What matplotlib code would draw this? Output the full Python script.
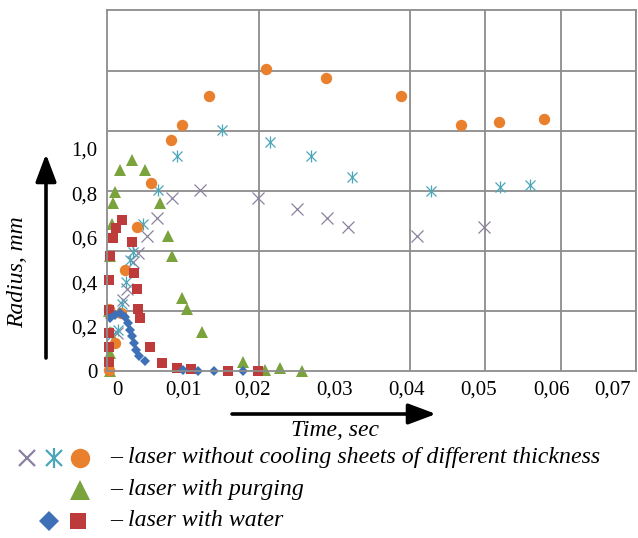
import matplotlib
matplotlib.use("Agg")
import matplotlib.pyplot as plt
import numpy as np

# ---------------- data ----------------
# laser without cooling: sheet 1 (grey crosses)
x_cross = [0.0011, 0.0019, 0.0025, 0.0033, 0.0039, 0.0051, 0.0064, 0.0084, 0.0121,
           0.0198, 0.0250, 0.0290, 0.0318, 0.0410, 0.0498]
y_cross = [0.17, 0.32, 0.37, 0.49, 0.53, 0.61, 0.69, 0.78, 0.815,
           0.78, 0.73, 0.69, 0.65, 0.61, 0.65]
# laser without cooling: sheet 2 (teal stars)
x_star = [0.0005, 0.0013, 0.0018, 0.0023, 0.0029, 0.0033, 0.0046, 0.0066, 0.0091,
          0.0150, 0.0214, 0.0269, 0.0323, 0.0428, 0.0519, 0.0559]
y_star = [0.16, 0.185, 0.30, 0.40, 0.50, 0.535, 0.66, 0.815, 0.97,
          1.085, 1.03, 0.97, 0.874, 0.81, 0.83, 0.84]
# laser without cooling: sheet 3 (orange circles)
x_circ = [0.0000, 0.0001, 0.0009, 0.0017, 0.0022, 0.0038, 0.0056, 0.0083, 0.0097,
          0.0133, 0.0209, 0.0288, 0.0388, 0.0468, 0.0518, 0.0578]
y_circ = [0.005, 0.28, 0.126, 0.26, 0.455, 0.65, 0.847, 1.04, 1.11,
          1.24, 1.36, 1.32, 1.24, 1.11, 1.12, 1.135]
# laser with purging (green triangles)
x_purge = [0.0002, 0.0002, 0.0002, 0.0001, 0.0002, 0.0005, 0.0006, 0.0009, 0.0015,
           0.0031, 0.0048, 0.0068, 0.0079, 0.0084, 0.0097, 0.0104, 0.0124, 0.0178,
           0.0208, 0.0228, 0.0257]
y_purge = [0.0, 0.08, 0.176, 0.27, 0.52, 0.66, 0.757, 0.806, 0.905,
           0.95, 0.905, 0.757, 0.61, 0.52, 0.33, 0.28, 0.176, 0.04,
           0.005, 0.013, 0.0]
# laser with water (red squares)
x_wsq = [0.0, 0.0, 0.0, 0.0, 0.0, 0.0002, 0.0006, 0.0010, 0.0018, 0.0031, 0.0034,
         0.0038, 0.0039, 0.0042, 0.0055, 0.0071, 0.0091, 0.0109, 0.0158, 0.0198]
y_wsq = [0.04, 0.11, 0.17, 0.275, 0.41, 0.52, 0.60, 0.645, 0.68, 0.58, 0.44,
         0.37, 0.28, 0.24, 0.11, 0.036, 0.013, 0.009, 0.0, 0.0]
# laser with water (blue diamonds)
x_wdi = [0.0002, 0.0009, 0.0015, 0.0022, 0.0026, 0.0029, 0.0031, 0.0034, 0.0037,
         0.0040, 0.0048, 0.0099, 0.0119, 0.0140, 0.0178]
y_wdi = [0.239, 0.252, 0.261, 0.243, 0.216, 0.185, 0.158, 0.126, 0.095,
         0.068, 0.045, 0.005, 0.0, 0.0, 0.0]

xtick_labels = ["0", "0,01", "0,02", "0,03", "0,04", "0,05", "0,06", "0,07"]
ytick_labels = ["0", "0,2", "0,4", "0,6", "0,8", "1,0"]
ytick_vals = [0, 0.2, 0.4, 0.6, 0.8, 1.0]
legend_texts = ["– laser without cooling sheets of different thickness",
                "– laser with purging",
                "– laser with water"]
xlabel = "Time, sec"
ylabel = "Radius, mm"

# ---------------- style ----------------
C_CROSS = "#8a80a0"
C_STAR = "#4aa6b8"
C_CIRC = "#e8802e"
C_PURGE = "#7aa33c"
C_WSQ = "#bd3b3b"
C_WDI = "#3d70b6"
GRID = "#8c8c8c"
SERIF = ["Liberation Serif", "DejaVu Serif"]

W, H = 638, 538
fig = plt.figure(figsize=(W / 100, H / 100), dpi=100)
ax_l, ax_r, ax_t, ax_b = 107, 636, 10, 371
ax = fig.add_axes([ax_l / W, 1 - ax_b / H, (ax_r - ax_l) / W, (ax_b - ax_t) / H])

ypx = 222.0  # pixels per mm
ax.set_ylim(0, (ax_b - ax_t) / ypx)
ax.set_xlim(-0.0002, 0.07)

# grid (vertical every 0.01, horizontal every 60 px)
ax.set_xticks(np.arange(0.01, 0.0701, 0.01), minor=True)
ax.set_yticks(np.arange(1, 6) * 60 / ypx, minor=True)
ax.grid(True, which="minor", color=GRID, lw=1.3)
ax.set_axisbelow(True)
for s in ax.spines.values():
    s.set_color(GRID)
    s.set_linewidth(1.3)

# tick labels
xtick_pos = [0.0012, 0.01, 0.0191, 0.0300, 0.0396, 0.0491, 0.0588, 0.0669]
ax.set_xticks(xtick_pos)
ax.set_xticklabels(xtick_labels, family=SERIF, fontsize=15)
ax.set_yticks(ytick_vals)
ax.set_yticklabels(ytick_labels, family=SERIF, fontsize=15)
ax.tick_params(which="both", length=0)
ax.tick_params(axis="x", pad=7)
ax.tick_params(axis="y", pad=7)

kw = dict(ls="none", clip_on=False)
ax.plot(x_cross, y_cross, marker="x", ms=8, mew=0.9, color=C_CROSS, **kw)
ax.plot(x_star, y_star, marker="x", ms=7, mew=0.9, color=C_STAR, **kw)
ax.plot(x_star, y_star, marker="|", ms=9, mew=0.9, color=C_STAR, **kw)
ax.plot(x_purge, y_purge, marker="^", ms=8.5, mew=0, color=C_PURGE, **kw)
ax.plot(x_circ, y_circ, marker="o", ms=8.2, mew=0, color=C_CIRC, **kw)
ax.plot(x_wsq, y_wsq, marker="s", ms=7.2, mew=0, color=C_WSQ, **kw)
ax.plot(x_wdi, y_wdi, marker="D", ms=5.5, mew=0, color=C_WDI, **kw)

# ---------------- overlay for arrows and legend ----------------
ov = fig.add_axes([0, 0, 1, 1], facecolor="none")
ov.set_xlim(0, W)
ov.set_ylim(H, 0)
ov.axis("off")

arrow_kw = dict(arrowstyle="-|>,head_length=1.2,head_width=0.45", lw=2.6, color="black",
                mutation_scale=14, shrinkA=0, shrinkB=0)
ov.annotate("", xy=(46, 154), xytext=(46, 358), arrowprops=arrow_kw)
ov.annotate("", xy=(436, 414), xytext=(232, 414), arrowprops=arrow_kw)

ov.text(335, 431, xlabel, family=SERIF, style="italic", fontsize=17,
        ha="center", va="center")
ov.text(18, 272, ylabel, family=SERIF, style="italic", fontsize=17,
        ha="center", va="center", rotation=90)

# legend markers
ov.plot([27], [458], marker="x", ms=12, mew=1.6, color=C_CROSS)
ov.plot([54], [458], marker="x", ms=11, mew=1.6, color=C_STAR)
ov.plot([54], [458], marker="|", ms=14, mew=1.6, color=C_STAR)
ov.plot([80], [458], marker="o", ms=14, mew=0, color=C_CIRC)
ov.plot([80], [490], marker="^", ms=15, mew=0, color=C_PURGE)
ov.plot([49], [521], marker="D", ms=10, mew=0, color=C_WDI)
ov.plot([78], [521], marker="s", ms=11, mew=0, color=C_WSQ)
for ty, t in zip([458, 490, 521], legend_texts):
    ov.text(110, ty, t, family=SERIF, style="italic", fontsize=17.2,
            ha="left", va="center")

fig.savefig("out.png", dpi=100)
